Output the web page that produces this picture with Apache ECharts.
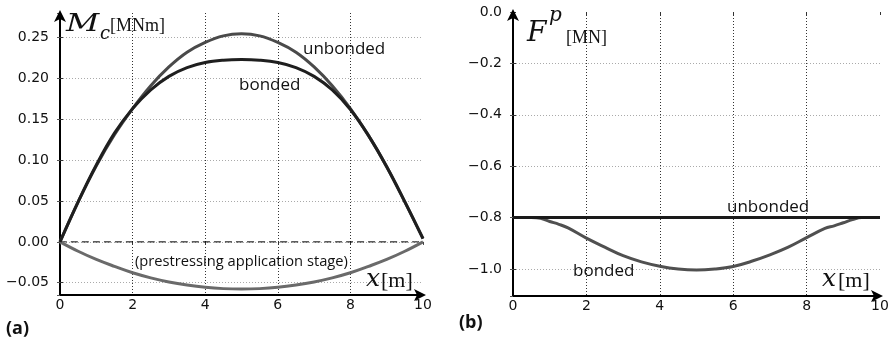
<!DOCTYPE html>
<html>
<head>
<meta charset="utf-8">
<script src="https://cdn.jsdelivr.net/npm/echarts@6/dist/echarts.min.js"></script>
<style>
html,body{margin:0;padding:0;background:#fff;}
#c{width:892px;height:344px;}
</style>
</head>
<body>
<div id="c"></div>
<script>
// ---- data ----
const xPos = [0,0.5,1,1.5,2,2.5,3,3.5,4,4.5,5,5.5,6,6.5,7,7.5,8,8.5,9,9.5,10];
const mcUnbonded = [0,0.049,0.093,0.131,0.163,0.191,0.214,0.232,0.244,0.252,0.2545,0.252,0.244,0.232,0.214,0.191,0.163,0.130,0.092,0.049,0.004];
const mcBonded   = [0,0.049,0.094,0.133,0.163,0.186,0.2025,0.2132,0.2194,0.2222,0.2230,0.2222,0.2194,0.2132,0.2025,0.186,0.162,0.130,0.092,0.049,0.004];
const mcPrestress= [0,-0.0115,-0.0215,-0.030,-0.0378,-0.0440,-0.0490,-0.0528,-0.0556,-0.0572,-0.0577,-0.0572,-0.0556,-0.0528,-0.0490,-0.0440,-0.0378,-0.030,-0.0215,-0.0115,0];
const zeroLineX = [0,10];
const zeroLineY = [0,0];

const fpX       = [0,0.5,0.75,1,1.25,1.5,2,2.5,3,3.5,4,4.5,5,5.5,6,6.5,7,7.5,8,8.5,8.75,9,9.25,9.5,10];
const fpBonded  = [-0.8,-0.8,-0.803,-0.815,-0.826,-0.84,-0.88,-0.915,-0.948,-0.972,-0.989,-1.0,-1.004,-1.0,-0.99,-0.97,-0.945,-0.915,-0.878,-0.842,-0.832,-0.82,-0.808,-0.8,-0.8];
const fpUnbondedX = [0,10];
const fpUnbonded  = [-0.8,-0.8];

// ---- helpers ----
const pairs = (xs, ys) => xs.map((x,i)=>[x, ys[i]]);
const minus = (v, d) => (v < 0 ? '\u2212' : '') + Math.abs(v).toFixed(d);
const tickFont = {fontFamily:'DejaVu Sans', fontSize:14, color:'#111'};

function bottomX(gi){
  return {
    type:'value', gridIndex:gi, min:0, max:10, interval:2, position:'bottom',
    axisLine:{onZero:false, lineStyle:{color:'#000', width:2}, symbol:['none','arrow'], symbolSize:[9,12], symbolOffset:[0,3]},
    axisTick:{show:false},
    axisLabel:Object.assign({margin:3, formatter:v=>String(v)}, tickFont),
    splitLine:{show:true, showMinLine:false, showMaxLine:false, lineStyle:{color:'#333', type:[1,2], width:1}}
  };
}
function topX(gi){
  return {
    type:'value', gridIndex:gi, min:0, max:10, interval:2, position:'top',
    axisLine:{show:false}, axisTick:{show:true, inside:true, length:3, lineStyle:{color:'#333'}},
    axisLabel:{show:false}, splitLine:{show:false}
  };
}
function leftY(gi, mn, mx, step, dec, showMax){
  return {
    type:'value', gridIndex:gi, min:mn, max:mx, minInterval:step, maxInterval:step, splitNumber:7,
    axisLine:{onZero:false, lineStyle:{color:'#000', width:2}, symbol:['none','arrow'], symbolSize:[9,12], symbolOffset:[0,3]},
    axisTick:{show:true, inside:true, length:3, lineStyle:{color:'#333'}},
    axisLabel:Object.assign({margin:11, showMinLabel:false, showMaxLabel:showMax, formatter:v=>minus(v,dec)}, tickFont),
    splitLine:{show:true, showMinLine:false, showMaxLine:false, lineStyle:{color:'#aaa', type:[1,2], width:1}}
  };
}
function rightY(gi, mn, mx, step){
  return {
    type:'value', gridIndex:gi, min:mn, max:mx, minInterval:step, maxInterval:step, splitNumber:7, position:'right',
    axisLine:{show:false}, axisTick:{show:true, inside:true, length:3, lineStyle:{color:'#555'}},
    axisLabel:{show:false}, splitLine:{show:false}
  };
}
function line(xi, yi, data, color, width, z, dash){
  return {type:'line', xAxisIndex:xi, yAxisIndex:yi, data:data, smooth:0.4, showSymbol:false, symbol:'none',
    lineStyle:{color:color, width:width, type:dash||'solid'}, z:z, silent:true};
}
function txt(text, x, y, font, extra, sx){
  return {type:'text', x:x, y:y, scaleX:sx||1, silent:true, z:100,
    style:Object.assign({text:text, font:font, fill:'#111', verticalAlign:'middle', align:'left'}, extra||{})};
}

const chart = echarts.init(document.getElementById('c'), null, {renderer:'canvas'});
chart.setOption({
  animation:false,
  backgroundColor:'#fff',
  grid:[
    {left:60, top:13, width:363, height:282},
    {left:513, top:12, width:367, height:284}
  ],
  xAxis:[bottomX(0), bottomX(1), topX(0), topX(1)],
  yAxis:[
    leftY(0, -0.065, 0.28, 0.05, 2, false),
    leftY(1, -1.105, 0, 0.2, 1, true),
    rightY(0, -0.065, 0.28, 0.05),
    rightY(1, -1.105, 0, 0.2)
  ],
  series:[
    line(0,0,pairs(zeroLineX,zeroLineY),'#000',1,2,[7,4]),
    line(0,0,pairs(xPos,mcPrestress),'#6a6a6a',3,3),
    line(0,0,pairs(xPos,mcUnbonded),'#4a4a4a',3,4),
    line(0,0,pairs(xPos,mcBonded),'#1f1f1f',3,5),
    line(1,1,pairs(fpX,fpBonded),'#505050',3,3),
    line(1,1,pairs(fpUnbondedX,fpUnbonded),'#1a1a1a',3,4)
  ],
  graphic:[
    txt('M', 66, 24.6, 'italic 25px "DejaVu Serif"', null, 1.3),
    txt('c', 100, 34.5, 'italic 18px "DejaVu Serif"'),
    txt('[MNm]', 110, 26.5, '18px "Liberation Serif"'),
    txt('unbonded', 303, 49, '17px "Open Sans"'),
    txt('bonded', 239, 85, '17px "Open Sans"'),
    txt('(prestressing application stage)', 135, 262, '14.7px "Open Sans"'),
    txt('x', 366, 279.4, 'italic 25px "DejaVu Serif"'),
    txt('[m]', 381, 281, '22px "Liberation Serif"'),
    txt('(a)', 6, 329, 'bold 18px "Open Sans"'),

    txt('F', 527, 33.6, 'italic 28px "DejaVu Serif"'),
    txt('p', 549, 16, 'italic 20px "DejaVu Serif"'),
    txt('[MN]', 566, 38, '18px "Liberation Serif"'),
    txt('unbonded', 727, 207, '17px "Open Sans"'),
    txt('bonded', 573, 271, '17px "Open Sans"'),
    txt('x', 822, 279.4, 'italic 25px "DejaVu Serif"'),
    txt('[m]', 838, 281, '22px "Liberation Serif"'),
    txt('(b)', 459, 323, 'bold 18px "Open Sans"')
  ]
});
</script>
</body>
</html>
